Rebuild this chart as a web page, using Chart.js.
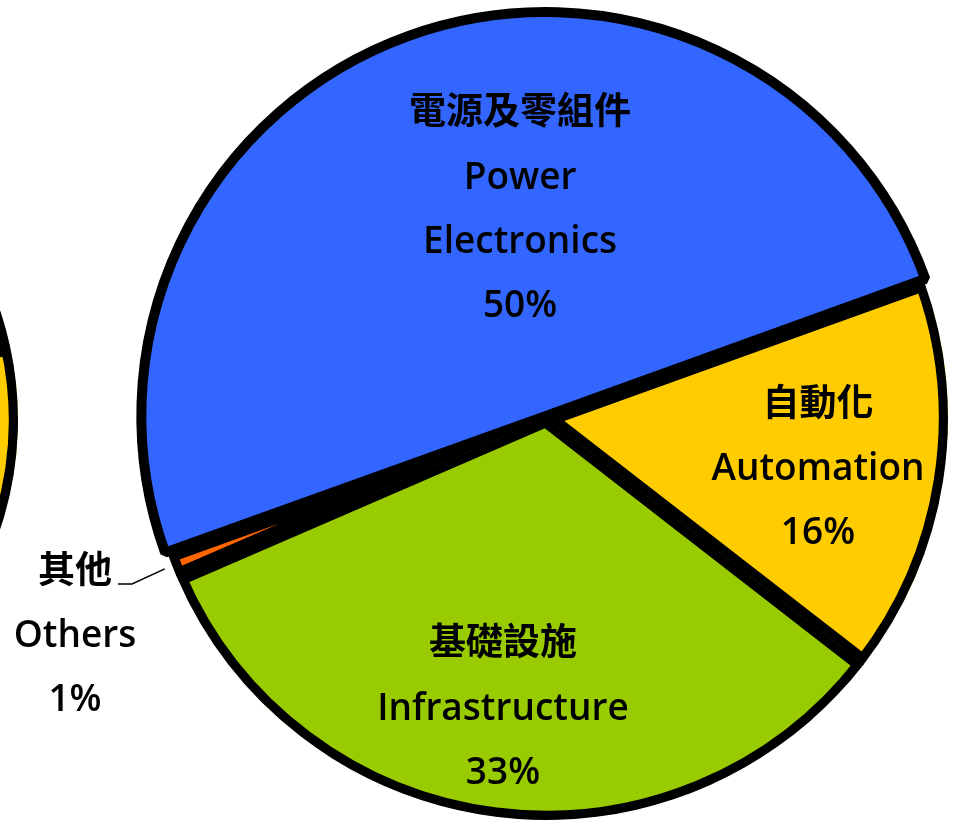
<!DOCTYPE html>
<html><head><meta charset="utf-8">
<script src="https://cdn.jsdelivr.net/npm/chart.js@4"></script>
<style>
html,body{margin:0;padding:0;background:#fff;overflow:hidden;width:958px;height:822px;position:relative}
#main{position:absolute;left:0;top:0}
#prev{position:absolute;left:-687px;top:0}
</style></head><body>
<canvas id="prev" width="720" height="840"></canvas>
<canvas id="main" width="958" height="822"></canvas>
<script>
// ---- data ----
const categoriesZh = ['自動化', '基礎設施', '其他', '電源及零組件'];
const categoriesEn = [['Automation'], ['Infrastructure'], ['Others'], ['Power', 'Electronics']];
const shares = [16, 33, 1, 50];
// partially visible neighbouring pie (only its right edge is in frame)
const prevShares = [16, 33, 1, 50];

// ---- style ----
const sliceColors = ['#FFCC00', '#99CC00', '#FF6600', '#3366FF'];
const mainStyle = {
  offset: [0, 0, 0, 8],
  align: ['inner', 'inner', 'inner', 'center'],
  width: [9, 9, 9, 10]
};
const prevStyle = {
  offset: [0, 0, 0, 0],
  align: ['inner', 'inner', 'inner', 'inner'],
  width: [9, 9, 9, 9]
};
const labelLayout = [
  {frac: 0.687, dAng: 1.0},
  {frac: 0.724, dAng: 1.3},
  {frac: 1.288, dAng: -2.94, outside: true},
  {frac: 0.53, dAng: 12.8}
];
const ZH_FONT = "bold 37px 'Noto Sans CJK TC', sans-serif";
const EN_FONT = "600 37px 'Open Sans', 'Noto Sans', sans-serif";
const LINE_H = 64;
const EN_DY = 3.5;
const ZH_DY = -0.5;

const deg = Math.PI / 180;

const labelPlugin = {
  id: 'sliceLabels',
  afterDatasetsDraw(chart) {
    const ctx = chart.ctx;
    const meta = chart.getDatasetMeta(0);
    ctx.save();
    ctx.fillStyle = '#000';
    ctx.textAlign = 'center';
    ctx.textBaseline = 'middle';
    meta.data.forEach((arc, i) => {
      const p = arc.getProps(['x', 'y', 'startAngle', 'endAngle', 'outerRadius'], true);
      const mid = (p.startAngle + p.endAngle) / 2;
      const lay = labelLayout[i];
      const a = mid + lay.dAng * deg;
      const cx = p.x + Math.cos(a) * p.outerRadius * lay.frac;
      const cy = p.y + Math.sin(a) * p.outerRadius * lay.frac;
      const lines = [categoriesZh[i], ...categoriesEn[i], shares[i] + '%'];
      const n = lines.length;
      const firstY = cy - (n - 1) / 2 * LINE_H;
      lines.forEach((t, k) => {
        ctx.font = k === 0 ? ZH_FONT : EN_FONT;
        ctx.fillText(t, cx, firstY + k * LINE_H + (k === 0 ? ZH_DY : EN_DY));
      });
      if (lay.outside) {
        const r0 = p.outerRadius + 8;
        const ex = p.x + Math.cos(mid) * r0;
        const ey = p.y + Math.sin(mid) * r0;
        ctx.beginPath();
        ctx.lineWidth = 1.5;
        ctx.strokeStyle = '#000';
        ctx.moveTo(ex, ey);
        ctx.lineTo(cx + 57, firstY + 15);
        ctx.lineTo(cx + 43, firstY + 15);
        ctx.stroke();
      }
    });
    ctx.restore();
  }
};

function pieConfig(values, rotation, radius, padding, style, withLabels) {
  return {
    type: 'pie',
    data: {
      labels: categoriesZh,
      datasets: [{
        data: values,
        backgroundColor: sliceColors,
        borderColor: '#000',
        borderWidth: style.width,
        borderAlign: style.align,
        offset: style.offset,
        hoverOffset: 0,
        clip: false
      }]
    },
    options: {
      responsive: false,
      animation: false,
      events: [],
      devicePixelRatio: 1,
      rotation: rotation,
      radius: radius,
      layout: {padding: padding},
      plugins: {legend: {display: false}, tooltip: {enabled: false}}
    },
    plugins: withLabels ? [labelPlugin] : []
  };
}

new Chart(document.getElementById('prev'), pieConfig(prevShares, 77.6, 345, 0, prevStyle, false));
new Chart(document.getElementById('main'), pieConfig(shares, 70.2, 402, {left: 134, top: 14, right: 0, bottom: 0}, mainStyle, true));
</script>
</body></html>
